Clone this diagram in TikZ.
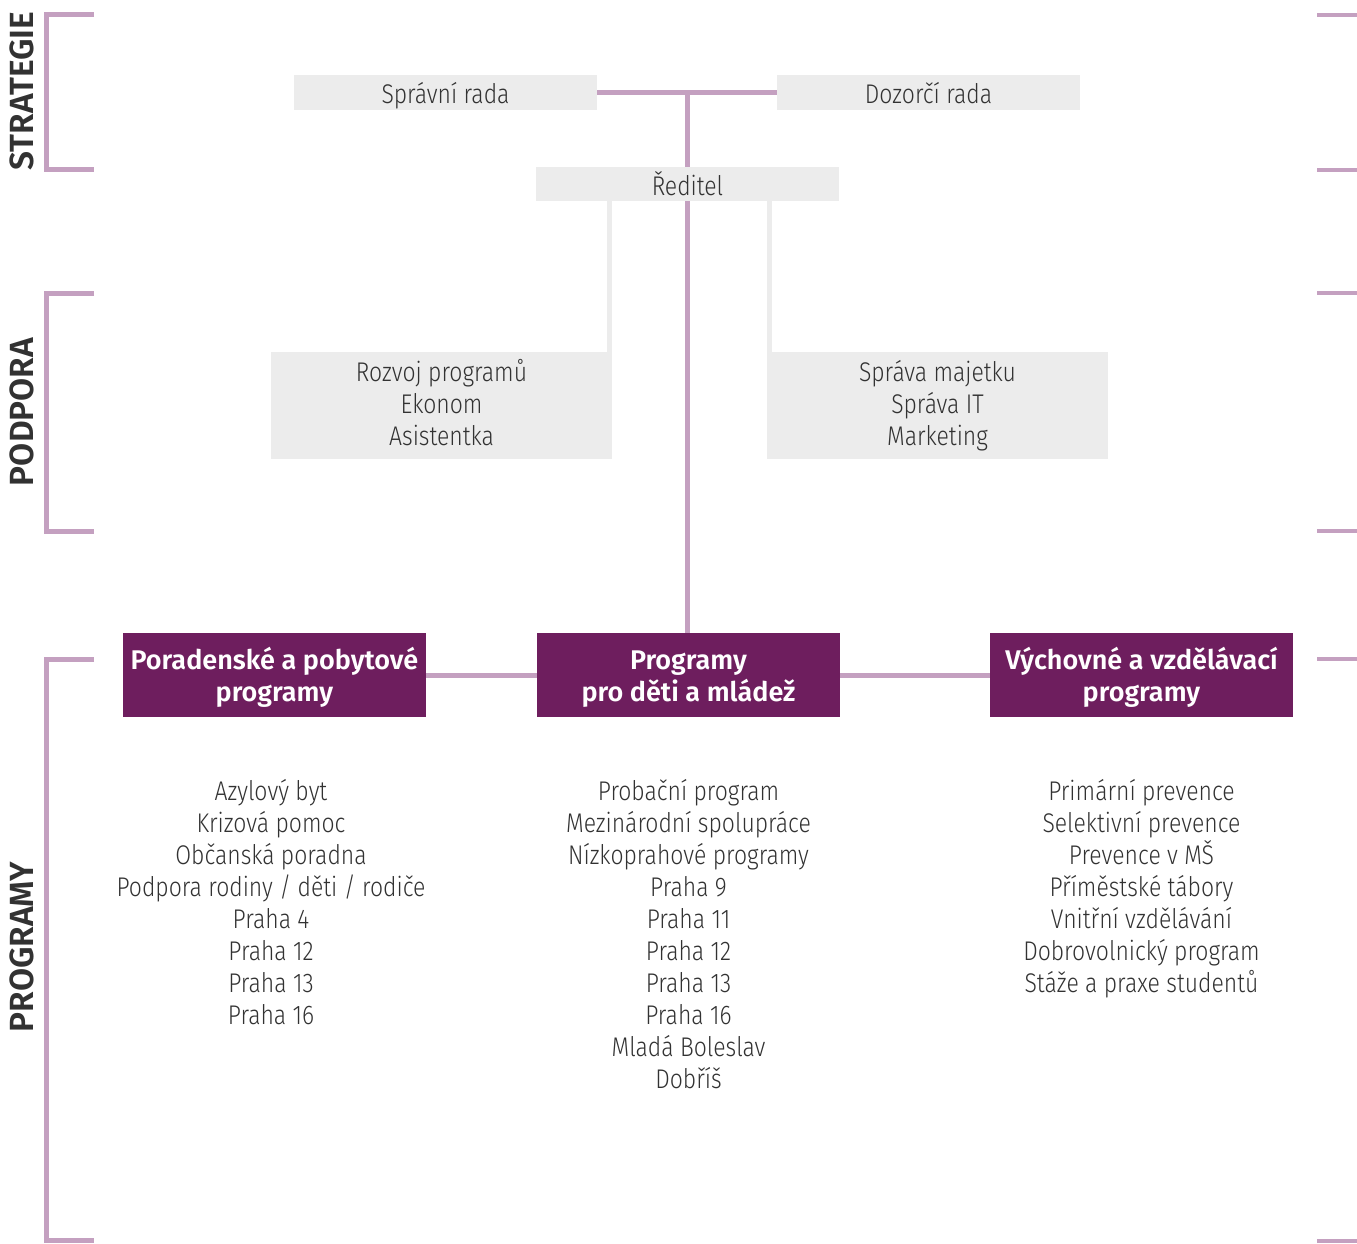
\documentclass[tikz,border=0pt]{standalone}
\usepackage{fontspec}
\setmainfont{Fira Sans}[UprightFont=* Light, UprightFeatures={FakeStretch=0.85}, BoldFont=* SemiBold]
\usetikzlibrary{positioning, calc, backgrounds}
\definecolor{linelilac}{RGB}{196,160,192}
\definecolor{boxgray}{RGB}{236,236,236}
\definecolor{progpurple}{RGB}{110,30,94}
\definecolor{textgray}{RGB}{50,50,50}
\tikzset{
    organ/.style={rectangle, fill=boxgray, minimum width=303pt, minimum height=35pt, inner sep=0pt, text height=27pt, text depth=5pt, text=textgray, font=\fontsize{27}{32}\selectfont},
    support/.style={rectangle, fill=boxgray, minimum width=341pt, minimum height=107pt, inner sep=0pt, align=center, text height=86pt, text depth=6pt, text=textgray, font=\fontsize{27}{32}\selectfont},
    program/.style={rectangle, fill=progpurple, minimum width=303pt, minimum height=84pt, inner sep=0pt, align=center, text height=56pt, text depth=3pt, text=white, font=\fontsize{27}{32}\selectfont\bfseries},
    items/.style={inner sep=0pt, align=center, text=textgray, font=\fontsize{27}{32}\selectfont},
    level/.style={rotate=90, inner sep=0pt, text=textgray, font=\fontsize{33.5}{36}\selectfont\bfseries},
    link/.style={linelilac, line width=5pt},
    feeder/.style={boxgray, line width=5pt},
    bracket/.style={linelilac, line width=5pt},
    tick/.style={linelilac, line width=4pt},
}

\begin{document}
\begin{tikzpicture}[x=1pt, y=-1pt]
    \useasboundingbox (0,0) rectangle (1357,1243);
    % levels on the left, ticks on the right
    \node[level] (strategy) at (22,91) {STRATEGIE};
    \node[level] (support) at (22,412) {PODPORA};
    \node[level] (programs) at (22,947) {PROGRAMY};
    \draw[bracket] (94,14.5) -| (46.5,169.5) -- (94,169.5);
    \draw[bracket] (94,293) -| (46.5,531) -- (94,531);
    \draw[bracket] (94,659) -| (46.5,1240.5) -- (94,1240.5);
    \foreach \y in {14.5,169.5,293,531,659,1240.5}
        \draw[tick] (1317,\y) -- (1357,\y);

    % management
    \node[organ] (board) at (445.5,92.5) {Správní rada};
    \node[organ] (supervisory) at (928.5,92.5) {Dozorčí rada};
    \node[organ, minimum height=34pt] (director) at (687.5,184) {Ředitel};
    \node[support] (suppleft) at (441.5,405.5) {Rozvoj programů\\Ekonom\\Asistentka};
    \node[support] (suppright) at (937.5,405.5) {Správa majetku\\Správa IT\\Marketing};

    % programs
    \node[program] (progleft) at (274.5,675) {Poradenské a pobytové\\programy};
    \node[program] (progmid) at (688.5,675) {Programy\\pro děti a mládež};
    \node[program] (progright) at (1141.5,675) {Výchovné a vzdělávací\\programy};

    \node[items, below=62pt of progleft, xshift=-3.5pt] (listleft) {Azylový byt\\Krizová pomoc\\Občanská poradna\\Podpora rodiny / děti / rodiče\\Praha 4\\Praha 12\\Praha 13\\Praha 16};
    \node[items, below=62pt of progmid] (listmid) {Probační program\\Mezinárodní spolupráce\\Nízkoprahové programy\\Praha 9\\Praha 11\\Praha 12\\Praha 13\\Praha 16\\Mladá Boleslav\\Dobříš};
    \node[items, below=62pt of progright] (listright) {Primární prevence\\Selektivní prevence\\Prevence v MŠ\\Příměstské tábory\\Vnitřní vzdělávání\\Dobrovolnický program\\Stáže a praxe studentů};

    \begin{scope}[on background layer]
        \draw[link] (board.east) -- (supervisory.west);
        \coordinate (junction) at (board.east -| director);
        \draw[link] (junction) -- (junction |- progmid.north);
        \draw[feeder] ([xshift=-2.5pt]suppleft.north east) -- ([xshift=-2.5pt]director.south -| suppleft.east);
        \draw[feeder] ([xshift=2.5pt]suppright.north west) -- ([xshift=2.5pt]director.south -| suppright.west);
        \draw[link] (progleft) -- (progmid);
        \draw[link] (progmid) -- (progright);
    \end{scope}
\end{tikzpicture}
\end{document}
